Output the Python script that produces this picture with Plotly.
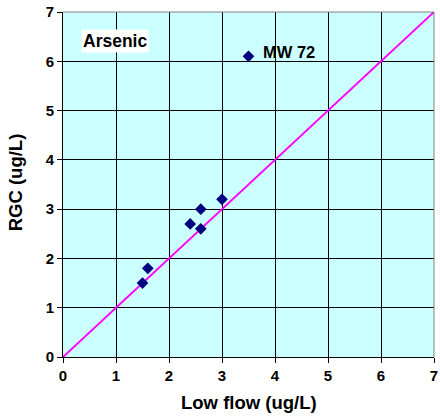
import plotly.graph_objects as go

low_flow = [1.5, 1.6, 2.4, 2.6, 2.6, 3.0, 3.5]
rgc = [1.5, 1.8, 2.7, 3.0, 2.6, 3.2, 6.1]
line_x = [0, 7]
line_y = [0, 7]
ticks = [0, 1, 2, 3, 4, 5, 6, 7]
tick_labels = ["<b>%d</b>" % t for t in ticks]

FAM = "Liberation Sans, Arial"

fig = go.Figure()
fig.add_trace(go.Scatter(x=line_x, y=line_y, mode="lines",
                         line=dict(color="#FF00FF", width=2), hoverinfo="skip"))
fig.add_trace(go.Scatter(x=low_flow, y=rgc, mode="markers",
                         marker=dict(symbol="diamond", size=9, color="#000080")))

fig.add_annotation(x=0.99, y=6.42, xref="x", yref="y", text="<b>Arsenic</b>", showarrow=False,
                   xanchor="center", yanchor="middle", bgcolor="white",
                   font=dict(family=FAM, size=17.5, color="black"), borderpad=1)
fig.add_annotation(x=3.73, y=6.18, xref="x", yref="y", text="<b>MW 72</b>", showarrow=False,
                   xanchor="left", yanchor="middle",
                   font=dict(family=FAM, size=16.5, color="black"))

# axis titles
fig.add_annotation(x=0.5, y=-0.133, xref="paper", yref="paper", text="<b>Low flow (ug/L)</b>",
                   showarrow=False, xanchor="center", yanchor="middle",
                   font=dict(family=FAM, size=18.5, color="black"))
fig.add_annotation(x=-0.127, y=0.506, xref="paper", yref="paper", text="<b>RGC (ug/L)</b>",
                   showarrow=False, xanchor="center", yanchor="middle", textangle=-90,
                   font=dict(family=FAM, size=18.5, color="black"))

# gray top/right border
fig.add_shape(type="line", xref="paper", yref="paper", x0=0, x1=1, y0=1, y1=1,
              line=dict(color="#808080", width=1))
fig.add_shape(type="line", xref="paper", yref="paper", x0=1, x1=1, y0=0, y1=1,
              line=dict(color="#808080", width=1))

common = dict(range=[0, 7], tickvals=ticks, ticktext=tick_labels, showgrid=True,
              gridcolor="black", gridwidth=1, showline=True, linecolor="black", linewidth=1,
              ticks="outside", ticklen=5, tickcolor="black", zeroline=False,
              automargin=False, tickfont=dict(family=FAM, size=15, color="black"))

fig.update_xaxes(**common)
fig.update_yaxes(**common)

fig.update_layout(width=440, height=417, showlegend=False,
                  plot_bgcolor="#CCFFFF", paper_bgcolor="white",
                  margin=dict(l=63, r=6, t=12, b=60))
fig.write_html("out.html", config={"displayModeBar": False},
               post_script="document.body.style.margin='0';")
